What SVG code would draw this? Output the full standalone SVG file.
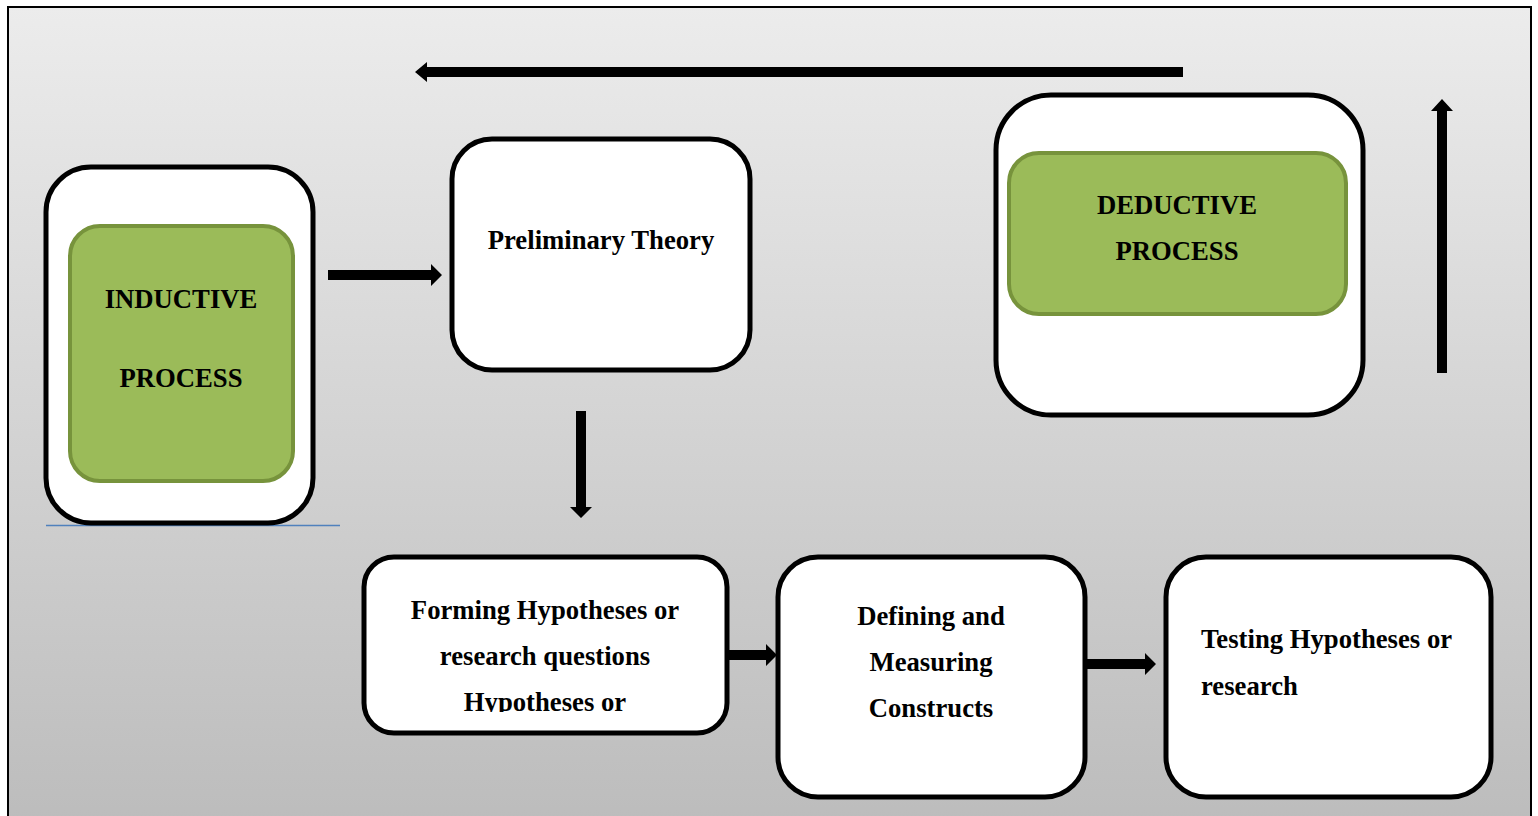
<svg xmlns="http://www.w3.org/2000/svg" width="1538" height="816" viewBox="0 0 1538 816">
<defs>
<linearGradient id="bg" x1="0" y1="0" x2="0" y2="1">
<stop offset="0" stop-color="#ececec"/>
<stop offset="1" stop-color="#bcbcbc"/>
</linearGradient>
<clipPath id="clipForm"><rect x="364" y="557" width="363" height="155"/></clipPath>
</defs>
<style>
.outer{fill:#fff;stroke:#000;stroke-width:5}
.inner{fill:#9bbb59;stroke:#77933c;stroke-width:4}
.lbl{font-family:"Liberation Serif","Times New Roman",serif;font-weight:bold;font-size:26.7px;fill:#000}
.c{text-anchor:middle}
.arr{fill:#000}
</style>
<rect x="8" y="7" width="1523" height="820" fill="url(#bg)" stroke="#000" stroke-width="2"/>
<line x1="46" y1="525.5" x2="340" y2="525.5" stroke="#4f81bd" stroke-width="1.5"/>

<g id="inductive">
<rect class="outer" x="46" y="167" width="267" height="356" rx="45"/>
<rect class="inner" x="70" y="226" width="223" height="255" rx="30"/>
<text class="lbl c" x="181" y="308">INDUCTIVE</text>
<text class="lbl c" x="181" y="387">PROCESS</text>
</g>
<g id="preliminary">
<rect class="outer" x="452" y="139" width="298" height="231" rx="40"/>
<text class="lbl c" x="601" y="249">Preliminary Theory</text>
</g>
<g id="deductive">
<rect class="outer" x="996" y="95" width="367" height="320" rx="55"/>
<rect class="inner" x="1009" y="153" width="337" height="161" rx="30"/>
<text class="lbl c" x="1177" y="214">DEDUCTIVE</text>
<text class="lbl c" x="1177" y="260">PROCESS</text>
</g>
<g id="forming">
<rect class="outer" x="364" y="557" width="363" height="176" rx="30"/>
<g clip-path="url(#clipForm)">
<text class="lbl c" x="545" y="619">Forming Hypotheses or</text>
<text class="lbl c" x="545" y="665">research questions</text>
<text class="lbl c" x="545" y="711">Hypotheses or</text>
</g>
</g>
<g id="defining">
<rect class="outer" x="778" y="557" width="307" height="240" rx="40"/>
<text class="lbl c" x="931" y="625">Defining and</text>
<text class="lbl c" x="931" y="671">Measuring</text>
<text class="lbl c" x="931" y="717">Constructs</text>
</g>
<g id="testing">
<rect class="outer" x="1166" y="557" width="325" height="240" rx="40"/>
<text class="lbl" x="1201" y="648">Testing Hypotheses or</text>
<text class="lbl" x="1201" y="695">research</text>
</g>

<g id="connectors">
<polygon class="arr" points="1183,67 427,67 427,62 415,72 427,82 427,77 1183,77"/>
<polygon class="arr" points="1437,373 1437,111 1431,111 1442,99 1453,111 1447,111 1447,373"/>
<polygon class="arr" points="328,270 431,270 431,264 442,275 431,286 431,280 328,280"/>
<polygon class="arr" points="576,411 576,507 570,507 581,518 592,507 586,507 586,411"/>
<polygon class="arr" points="727,650 766,650 766,644 777,655 766,666 766,660 727,660"/>
<polygon class="arr" points="1085,659 1145,659 1145,653 1156,664 1145,675 1145,669 1085,669"/>
</g>
</svg>
